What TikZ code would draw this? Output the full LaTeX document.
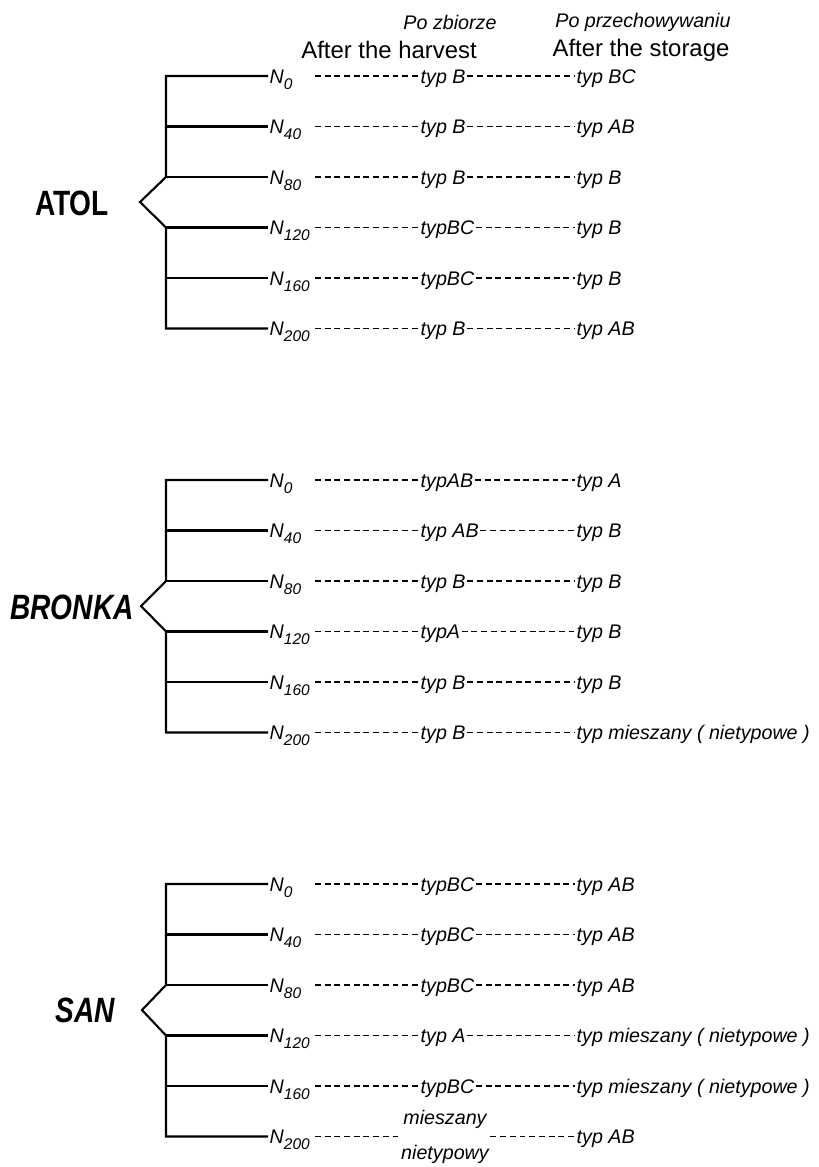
\documentclass[tikz,border=0pt]{standalone}
\usepackage{fontspec}
\setmainfont{Liberation Sans}
\newfontfamily\cultfont[FakeStretch=0.8]{Liberation Sans}
\usepackage{tikz}
\usetikzlibrary{positioning}

\newcommand{\ndose}[1]{N\raisebox{-0.6ex}{\fontsize{11}{11}\selectfont #1}}

\begin{document}
\begin{tikzpicture}[x=0.025cm, y=-0.025cm,
  cult/.style={font=\cultfont\bfseries\fontsize{25}{28}\selectfont},
  cultit/.style={font=\cultfont\bfseries\itshape\fontsize{25}{28}\selectfont},
  dose/.style={anchor=west, inner sep=1pt, text width=31pt, text height=10pt, text depth=0pt, font=\itshape\fontsize{14}{16}\selectfont},
  res/.style={anchor=west, inner sep=1pt, text height=10pt, text depth=0pt, font=\itshape\fontsize{14}{16}\selectfont},
  head/.style={font=\itshape\fontsize{14}{16}\selectfont},
  headen/.style={font=\fontsize{17}{20}\selectfont},
  branch/.style={line width=1.5pt},
  link/.style={line width=1.1pt, dash pattern=on 4.2pt off 2.7pt}]
\useasboundingbox (0,0) rectangle (819,1167);

% column heads
\node[head] (po1) at (450,22) {Po zbiorze};
\node[head] (po2) at (643,22) {Po przechowywaniu};
\node[headen] (after1) at (389,50) {After the harvest};
\node[headen] (after2) at (641,50) {After the storage};

% ATOL
\node[cult] (atol) at (72,203) {ATOL};
\coordinate (atol-up) at (166,177);
\coordinate (atol-tip) at (140,202);
\coordinate (atol-dn) at (166,227.5);
\node[dose] (a0) at (268,76) {\ndose{0}};
\node[dose] (a1) at (268,126.5) {\ndose{40}};
\node[dose] (a2) at (268,177) {\ndose{80}};
\node[dose] (a3) at (268,227.5) {\ndose{120}};
\node[dose] (a4) at (268,278) {\ndose{160}};
\node[dose] (a5) at (268,328.5) {\ndose{200}};
\node[res] (ah0) at (419,76) {typ B};
\node[res] (ah1) at (419,126.5) {typ B};
\node[res] (ah2) at (419,177) {typ B};
\node[res] (ah3) at (419,227.5) {typBC};
\node[res] (ah4) at (419,278) {typBC};
\node[res] (ah5) at (419,328.5) {typ B};
\node[res] (as0) at (575,76) {typ BC};
\node[res] (as1) at (575,126.5) {typ AB};
\node[res] (as2) at (575,177) {typ B};
\node[res] (as3) at (575,227.5) {typ B};
\node[res] (as4) at (575,278) {typ B};
\node[res] (as5) at (575,328.5) {typ AB};
\draw[branch] (a0.west) -| (atol-up) -- (atol-tip) -- (atol-dn) |- (a5.west);
\draw[branch] (a1.west -| atol-up) -- (a1.west);
\draw[branch] (atol-up) -- (a2.west);
\draw[branch] (atol-dn) -- (a3.west);
\draw[branch] (a4.west -| atol-dn) -- (a4.west);
\draw[link] (a0.east) -- (ah0.west);
\draw[link] (a1.east) -- (ah1.west);
\draw[link] (a2.east) -- (ah2.west);
\draw[link] (a3.east) -- (ah3.west);
\draw[link] (a4.east) -- (ah4.west);
\draw[link] (a5.east) -- (ah5.west);
\draw[link] (ah0.east) -- (as0.west);
\draw[link] (ah1.east) -- (as1.west);
\draw[link] (ah2.east) -- (as2.west);
\draw[link] (ah3.east) -- (as3.west);
\draw[link] (ah4.east) -- (as4.west);
\draw[link] (ah5.east) -- (as5.west);

% BRONKA
\node[cultit] (bronka) at (72,607) {BRONKA};
\coordinate (bronka-up) at (166,581);
\coordinate (bronka-tip) at (141,606);
\coordinate (bronka-dn) at (166,631.5);
\node[dose] (b0) at (268,480) {\ndose{0}};
\node[dose] (b1) at (268,530.5) {\ndose{40}};
\node[dose] (b2) at (268,581) {\ndose{80}};
\node[dose] (b3) at (268,631.5) {\ndose{120}};
\node[dose] (b4) at (268,682) {\ndose{160}};
\node[dose] (b5) at (268,732.5) {\ndose{200}};
\node[res] (bh0) at (419,480) {typAB};
\node[res] (bh1) at (419,530.5) {typ AB};
\node[res] (bh2) at (419,581) {typ B};
\node[res] (bh3) at (419,631.5) {typA};
\node[res] (bh4) at (419,682) {typ B};
\node[res] (bh5) at (419,732.5) {typ B};
\node[res] (bs0) at (575,480) {typ A};
\node[res] (bs1) at (575,530.5) {typ B};
\node[res] (bs2) at (575,581) {typ B};
\node[res] (bs3) at (575,631.5) {typ B};
\node[res] (bs4) at (575,682) {typ B};
\node[res] (bs5) at (575,732.5) {typ mieszany ( nietypowe )};
\draw[branch] (b0.west) -| (bronka-up) -- (bronka-tip) -- (bronka-dn) |- (b5.west);
\draw[branch] (b1.west -| bronka-up) -- (b1.west);
\draw[branch] (bronka-up) -- (b2.west);
\draw[branch] (bronka-dn) -- (b3.west);
\draw[branch] (b4.west -| bronka-dn) -- (b4.west);
\draw[link] (b0.east) -- (bh0.west);
\draw[link] (b1.east) -- (bh1.west);
\draw[link] (b2.east) -- (bh2.west);
\draw[link] (b3.east) -- (bh3.west);
\draw[link] (b4.east) -- (bh4.west);
\draw[link] (b5.east) -- (bh5.west);
\draw[link] (bh0.east) -- (bs0.west);
\draw[link] (bh1.east) -- (bs1.west);
\draw[link] (bh2.east) -- (bs2.west);
\draw[link] (bh3.east) -- (bs3.west);
\draw[link] (bh4.east) -- (bs4.west);
\draw[link] (bh5.east) -- (bs5.west);

% SAN
\node[cultit] (san) at (85,1010) {SAN};
\coordinate (san-up) at (166,985);
\coordinate (san-tip) at (142,1010);
\coordinate (san-dn) at (166,1035.5);
\node[dose] (s0) at (268,884) {\ndose{0}};
\node[dose] (s1) at (268,934.5) {\ndose{40}};
\node[dose] (s2) at (268,985) {\ndose{80}};
\node[dose] (s3) at (268,1035.5) {\ndose{120}};
\node[dose] (s4) at (268,1086) {\ndose{160}};
\node[dose] (s5) at (268,1136.5) {\ndose{200}};
\node[res] (sh0) at (419,884) {typBC};
\node[res] (sh1) at (419,934.5) {typBC};
\node[res] (sh2) at (419,985) {typBC};
\node[res] (sh3) at (419,1035.5) {typ A};
\node[res] (sh4) at (419,1086) {typBC};
\node[align=center, inner sep=1pt, font=\itshape\fontsize{14}{16}\selectfont] (sh5) at (445,1137) {mieszany\\[9pt]nietypowy};
\node[res] (ss0) at (575,884) {typ AB};
\node[res] (ss1) at (575,934.5) {typ AB};
\node[res] (ss2) at (575,985) {typ AB};
\node[res] (ss3) at (575,1035.5) {typ mieszany ( nietypowe )};
\node[res] (ss4) at (575,1086) {typ mieszany ( nietypowe )};
\node[res] (ss5) at (575,1136.5) {typ AB};
\draw[branch] (s0.west) -| (san-up) -- (san-tip) -- (san-dn) |- (s5.west);
\draw[branch] (s1.west -| san-up) -- (s1.west);
\draw[branch] (san-up) -- (s2.west);
\draw[branch] (san-dn) -- (s3.west);
\draw[branch] (s4.west -| san-dn) -- (s4.west);
\draw[link] (s0.east) -- (sh0.west);
\draw[link] (s1.east) -- (sh1.west);
\draw[link] (s2.east) -- (sh2.west);
\draw[link] (s3.east) -- (sh3.west);
\draw[link] (s4.east) -- (sh4.west);
\draw[link] (s5.east) -- (sh5.west |- s5.east);
\draw[link] (sh0.east) -- (ss0.west);
\draw[link] (sh1.east) -- (ss1.west);
\draw[link] (sh2.east) -- (ss2.west);
\draw[link] (sh3.east) -- (ss3.west);
\draw[link] (sh4.east) -- (ss4.west);
\draw[link] (sh5.east |- ss5.west) -- (ss5.west);
\end{tikzpicture}
\end{document}
